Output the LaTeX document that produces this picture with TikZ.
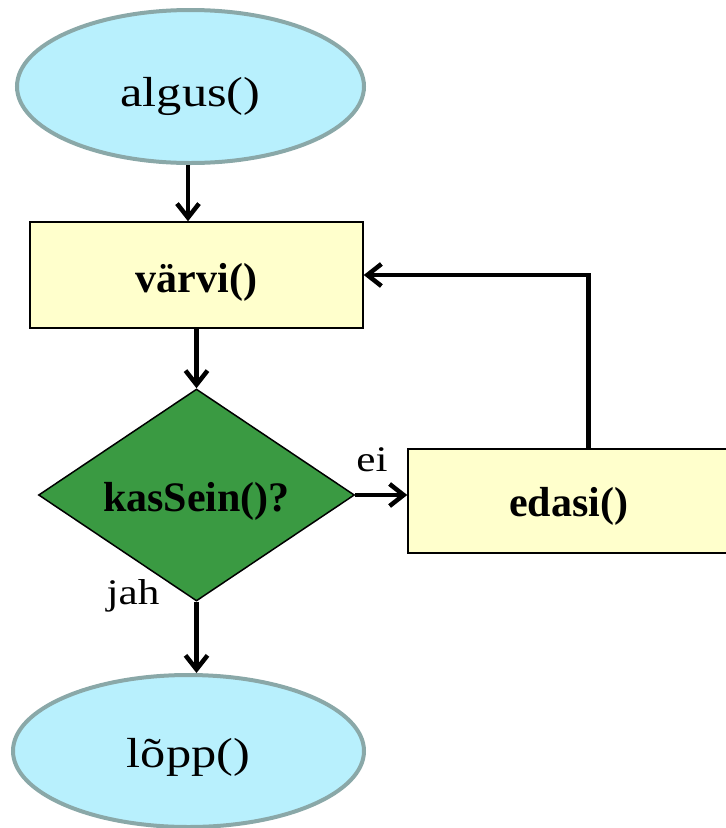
\documentclass[tikz,border=0pt]{standalone}
\usepackage{fontspec}
\setmainfont[FakeStretch=1.2]{Liberation Serif}
\newfontfamily\boxface{Liberation Serif}
\usetikzlibrary{shapes.geometric,arrows.meta}

\definecolor{termfill}{HTML}{B8F0FD}
\definecolor{termline}{HTML}{8AA8A8}
\definecolor{procfill}{HTML}{FFFFCC}
\definecolor{decfill}{HTML}{3A9A42}

\begin{document}
\begin{tikzpicture}[x=1pt,y=-1pt,
  terminal/.style={ellipse, draw=termline, line width=4pt, fill=termfill, inner sep=0pt},
  process/.style={rectangle, draw=black, line width=1.5pt, fill=procfill, inner sep=0pt},
  decision/.style={diamond, draw=black, line width=1.5pt, fill=decfill, inner sep=0pt},
  bigtext/.style={font=\fontsize{42}{48}\selectfont},
  boxtext/.style={font=\boxface\fontsize{42}{48}\selectfont\bfseries},
  lbl/.style={font=\fontsize{36}{42}\selectfont, inner sep=0pt},
  flow/.style={line width=4.5pt, -{Straight Barb[length=14pt,width=22pt]}}
]
\useasboundingbox (0,0) rectangle (726,828);

% start and end terminals
\node[terminal, minimum width=347pt, minimum height=153pt,
  label={[bigtext, yshift=-10pt, name=algusT]center:algus()}] (algus) at (190.5,86.5) {};
\node[terminal, minimum width=351pt, minimum height=152pt,
  label={[bigtext, yshift=-6pt, name=loppT]center:lõpp()}] (lopp) at (188.5,751) {};

% process boxes
\node[process, minimum width=333pt, minimum height=106pt,
  label={[boxtext, yshift=-7pt, name=varviT]center:värvi()}] (varvi) at (196.5,275) {};
\node[process, minimum width=321pt, minimum height=104pt,
  label={[boxtext, yshift=-5pt, name=edasiT]center:edasi()}] (edasi) at (568.5,501) {};

% decision
\node[decision, minimum width=316pt, minimum height=212pt,
  label={[boxtext, yshift=-6pt, name=kasT]center:kasSein()?}] (kas) at (196.5,495) {};

% branch labels
\node[lbl] (ei) at (372,460) {ei};
\node[lbl] (jah) at (133,596) {jah};

% connectors
\draw[flow] ([xshift=-2.5pt]algus.south) -- ([xshift=-2.5pt]algus.south |- varvi.north);
\draw[flow] (varvi.south) -- (kas.north);
\draw[flow] (kas.east) -- (kas.east -| edasi.west);
\draw[flow] (kas.south) -- (kas.south |- lopp.north);
\draw[flow] ([xshift=20pt]edasi.north) |- (varvi.east);
\end{tikzpicture}
\end{document}
